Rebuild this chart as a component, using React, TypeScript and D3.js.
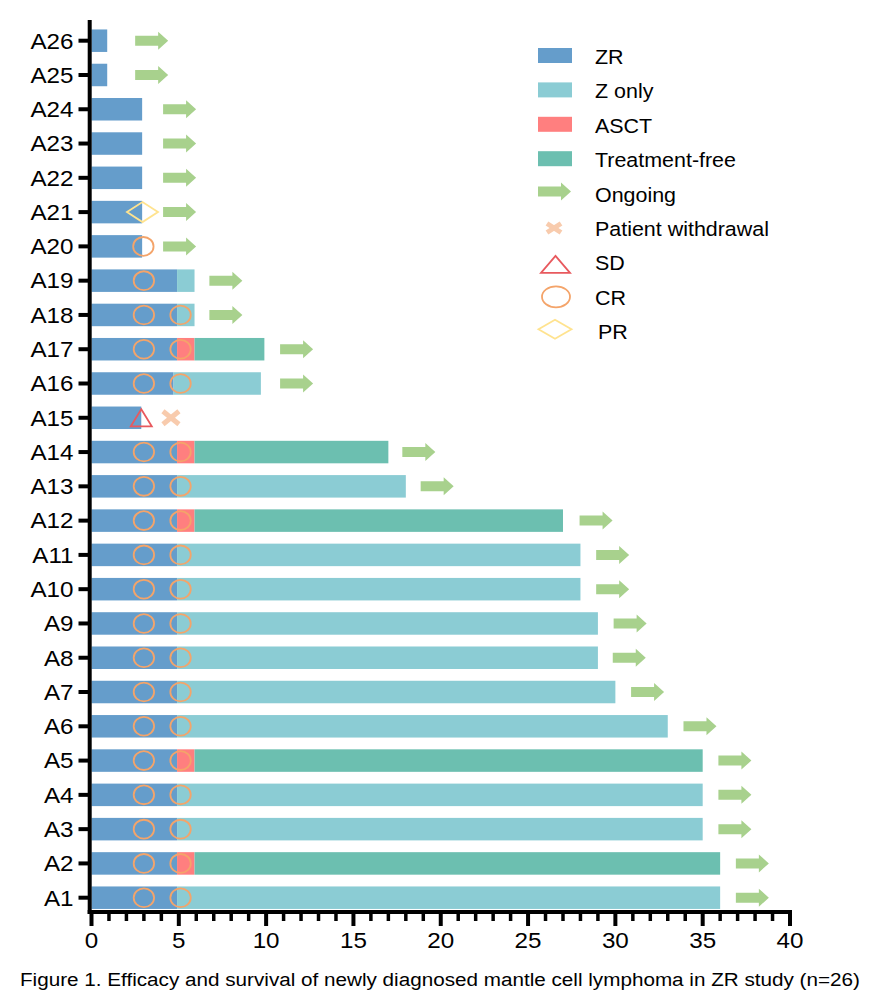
import React from "react";
import * as d3 from "d3";

const patients = ["A1","A2","A3","A4","A5","A6","A7","A8","A9","A10","A11","A12","A13","A14","A15","A16","A17","A18","A19","A20","A21","A22","A23","A24","A25","A26"];
const zrEnd = [4.9,4.9,4.9,4.9,4.9,4.9,4.9,4.9,4.9,4.9,4.9,4.9,4.9,4.9,2.85,4.7,4.9,4.9,4.9,2.9,2.9,2.9,2.9,2.9,0.9,0.9];
const asctEnd: (number|null)[] = [null,5.9,null,null,5.9,null,null,null,null,null,null,5.9,null,5.9,null,null,5.9,null,null,null,null,null,null,null,null,null];
const zOnlyEnd: (number|null)[] = [36,null,35,35,null,33,30,29,29,28,28,null,18,null,null,9.7,null,5.9,5.9,null,null,null,null,null,null,null];
const freeEnd: (number|null)[] = [null,36,null,null,35,null,null,null,null,null,null,27,null,17,null,null,9.9,null,null,null,null,null,null,null,null,null];
const ongoingStart: (number|null)[] = [36.9,36.9,35.9,35.9,35.9,33.9,30.9,29.85,29.9,28.9,28.9,27.95,18.85,17.8,null,10.8,10.8,6.75,6.75,4.1,4.1,4.1,4.1,4.1,2.5,2.5];
const crMarks = [
  {id:"A1",t:3.0},{id:"A1",t:5.1},{id:"A2",t:3.0},{id:"A2",t:5.1},{id:"A3",t:3.0},{id:"A3",t:5.1},
  {id:"A4",t:3.0},{id:"A4",t:5.1},{id:"A5",t:3.0},{id:"A5",t:5.1},{id:"A6",t:3.0},{id:"A6",t:5.1},
  {id:"A7",t:3.0},{id:"A7",t:5.1},{id:"A8",t:3.0},{id:"A8",t:5.1},{id:"A9",t:3.0},{id:"A9",t:5.1},
  {id:"A10",t:3.0},{id:"A10",t:5.1},{id:"A11",t:3.0},{id:"A11",t:5.1},{id:"A12",t:3.0},{id:"A12",t:5.1},
  {id:"A13",t:3.0},{id:"A13",t:5.1},{id:"A14",t:3.0},{id:"A14",t:5.1},
  {id:"A16",t:3.0},{id:"A16",t:5.1},{id:"A17",t:3.0},{id:"A17",t:5.1},{id:"A18",t:3.0},{id:"A18",t:5.1},
  {id:"A19",t:3.0},{id:"A20",t:2.97}
];
const prMarks = [{id:"A21",t:2.92}];
const sdMarks = [{id:"A15",t:2.85}];
const withdrawalMarks = [{id:"A15",t:4.55}];
const xTicks = [0,5,10,15,20,25,30,35,40];
const legendItems = ["ZR","Z only","ASCT","Treatment-free","Ongoing","Patient withdrawal","SD","CR","PR"];
const caption = "Figure 1. Efficacy and survival of newly diagnosed mantle cell lymphoma in ZR study (n=26)";

const C = {
  zr: "#659DCB", z: "#8BCCD4", asct: "#FF7F7F", free: "#6CBFB0",
  arrow: "#A8D18D", x: "#F8CBAD", sd: "#E8595E", cr: "#F4A46A", pr: "#FFE38F",
};
const FONT = "Arial, 'Liberation Sans', sans-serif";

function Txt({x,y,size,anchor="start",children}:{x:number;y:number;size:number;anchor?:string;children:React.ReactNode}) {
  return <text transform={`translate(${x},${y}) scale(1.1,1)`} fontSize={size} fontFamily={FONT} textAnchor={anchor} fill="#000">{children}</text>;
}

function Arrow({x,y}:{x:number;y:number}) {
  const L = 33, hl = 10, sh = 5, hh = 9;
  const d = `M${x},${y-sh} L${x+L-hl},${y-sh} L${x+L-hl},${y-hh} L${x+L},${y} L${x+L-hl},${y+hh} L${x+L-hl},${y+sh} L${x},${y+sh} Z`;
  return <path d={d} fill={C.arrow} />;
}
function Cross({x,y,w=20,h=17}:{x:number;y:number;w?:number;h?:number}) {
  return <g stroke={C.x} strokeWidth={5}>
    <line x1={x-w/2+2} y1={y-h/2+2} x2={x+w/2-2} y2={y+h/2-2} />
    <line x1={x-w/2+2} y1={y+h/2-2} x2={x+w/2-2} y2={y-h/2+2} />
  </g>;
}
function Tri({x,y,w=21,h=17}:{x:number;y:number;w?:number;h?:number}) {
  return <path d={`M${x},${y-h/2} L${x+w/2},${y+h/2} L${x-w/2},${y+h/2} Z`} fill="none" stroke={C.sd} strokeWidth={1.8} />;
}
function Diamond({x,y,w=31,h=20}:{x:number;y:number;w?:number;h?:number}) {
  return <path d={`M${x-w/2},${y} L${x},${y-h/2} L${x+w/2},${y} L${x},${y+h/2} Z`} fill="none" stroke={C.pr} strokeWidth={1.8} />;
}

export default function App() {
  const x = d3.scaleLinear().domain([0,40]).range([91.5,790]);
  const rows = [...patients].reverse();
  const y = d3.scalePoint<string>().domain(rows).range([40.7,897.7]);
  const bh = 22.5;
  const axisY = 912;
  const axisX = 89.7;
  const minor = d3.range(0,41,1);

  const segs: {id:string;x0:number;x1:number;c:string}[] = [];
  patients.forEach((p,i)=>{
    segs.push({id:p,x0:0,x1:zrEnd[i],c:C.zr});
    if (asctEnd[i]!=null) segs.push({id:p,x0:zrEnd[i],x1:asctEnd[i] as number,c:C.asct});
    const prev = asctEnd[i]!=null ? (asctEnd[i] as number) : zrEnd[i];
    if (zOnlyEnd[i]!=null) segs.push({id:p,x0:prev,x1:zOnlyEnd[i] as number,c:C.z});
    if (freeEnd[i]!=null) segs.push({id:p,x0:prev,x1:freeEnd[i] as number,c:C.free});
  });

  const ly = (i:number)=>55.5+i*34.4;

  return (
    <svg width={883} height={1004} style={{display:"block",position:"absolute",left:0,top:0}}>
      <rect width={883} height={1004} fill="#fff" />
      {segs.map((s,k)=>(
        <rect key={k} x={x(s.x0)} y={(y(s.id) as number)-bh/2} width={x(s.x1)-x(s.x0)} height={bh} fill={s.c} />
      ))}
      {crMarks.map((m,k)=>(
        <ellipse key={k} cx={x(m.t)} cy={y(m.id) as number} rx={10.2} ry={9.4} fill="none" stroke={C.cr} strokeWidth={1.8} />
      ))}
      {prMarks.map((m,k)=><Diamond key={k} x={x(m.t)} y={y(m.id) as number} />)}
      {sdMarks.map((m,k)=><Tri key={k} x={x(m.t)} y={(y(m.id) as number)} />)}
      {withdrawalMarks.map((m,k)=><Cross key={k} x={x(m.t)} y={y(m.id) as number} />)}
      {patients.map((p,i)=> ongoingStart[i]!=null ? <Arrow key={p} x={x(ongoingStart[i] as number)} y={y(p) as number} /> : null)}

      {/* y axis */}
      <line x1={axisX} x2={axisX} y1={20} y2={axisY+2} stroke="#000" strokeWidth={4} />
      {rows.map(r=>(
        <g key={r}>
          <line x1={78.5} x2={axisX} y1={y(r) as number} y2={y(r) as number} stroke="#000" strokeWidth={4} />
          <Txt x={73.5} y={(y(r) as number)+7.8} size={22} anchor="end">{r}</Txt>
        </g>
      ))}
      {/* x axis */}
      <line x1={axisX-2} x2={x(40)+2} y1={axisY} y2={axisY} stroke="#000" strokeWidth={4} />
      {minor.map(v=>(
        <line key={v} x1={x(v)} x2={x(v)} y1={axisY} y2={v%5===0?926:921} stroke="#000" strokeWidth={v%5===0?4:3.5} />
      ))}
      {xTicks.map(v=>(
        <Txt key={v} x={x(v)} y={948} size={22} anchor="middle">{v}</Txt>
      ))}

      {/* legend */}
      {legendItems.map((name,i)=>{
        const cy = ly(i);
        let mark: React.ReactNode = null;
        if (i===0) mark = <rect x={538} y={cy-7.5} width={34} height={15} fill={C.zr} />;
        if (i===1) mark = <rect x={538} y={cy-7.5} width={34} height={15} fill={C.z} />;
        if (i===2) mark = <rect x={538} y={cy-7.5} width={34} height={15} fill={C.asct} />;
        if (i===3) mark = <rect x={538} y={cy-7.5} width={34} height={15} fill={C.free} />;
        if (i===4) mark = <Arrow x={538} y={cy-1.5} />;
        if (i===5) mark = <Cross x={554} y={cy+0.5} w={18} h={13} />;
        if (i===6) mark = <Tri x={555.5} y={cy+2.5} w={29} h={17} />;
        if (i===7) mark = <ellipse cx={556} cy={cy+0.5} rx={14} ry={10.5} fill="none" stroke={C.cr} strokeWidth={1.8} />;
        if (i===8) mark = <Diamond x={555} y={cy-1.5} w={33} h={19} />;
        return <g key={name}>
          {mark}
          <Txt x={i===8?598:595} y={cy+8.5} size={19.5}>{name}</Txt>
        </g>;
      })}

      <Txt x={20} y={986} size={18.8}>{caption}</Txt>
    </svg>
  );
}
